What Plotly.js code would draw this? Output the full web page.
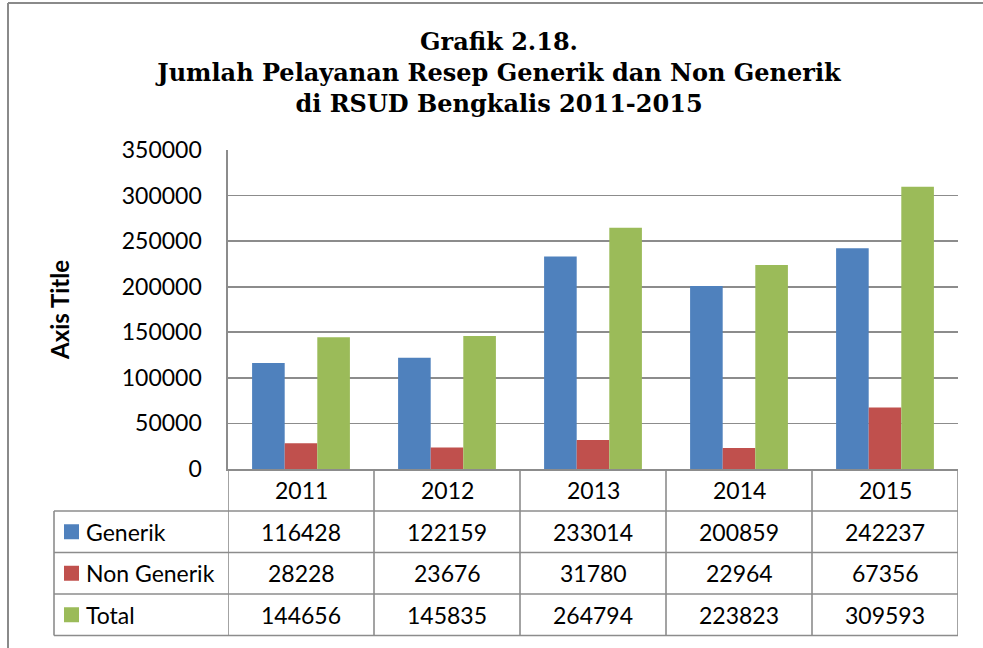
<!DOCTYPE html>
<html>
<head>
<meta charset="utf-8">
<script src="https://cdn.plot.ly/plotly-3.0.1.min.js"></script>
<style>
  html, body { margin: 0; padding: 0; background: #fff; }
  #chart { width: 983px; height: 648px; }
</style>
</head>
<body>
<div id="chart"></div>
<script>
// ---- data ----
const years = ["2011", "2012", "2013", "2014", "2015"];
const seriesNames = ["Generik", "Non Generik", "Total"];
const generik = [116428, 122159, 233014, 200859, 242237];
const nonGenerik = [28228, 23676, 31780, 22964, 67356];
const total = [144656, 145835, 264794, 223823, 309593];
const yTickValues = [0, 50000, 100000, 150000, 200000, 250000, 300000, 350000];

// ---- style / layout ----
const colors = ["#4F81BD", "#C0504D", "#9BBB59"];
const W = 983, H = 648;
const M = { l: 228, r: 25, t: 150, b: 179 };
const PW = W - M.l - M.r, PH = H - M.t - M.b;
const plotBottom = H - M.b;
const px = x => (x - M.l) / PW;          // pixel x -> paper x
const py = y => (plotBottom - y) / PH;   // pixel y -> paper y
const gridColor = "#8c8c8c";
const txtFont = { family: "Lato, 'Open Sans', sans-serif", size: 23, color: "#000" };

const seriesValues = [generik, nonGenerik, total];
const traces = seriesValues.map((vals, i) => ({
  type: "bar",
  name: seriesNames[i],
  x: years,
  y: vals,
  marker: { color: colors[i] },
  hoverinfo: "x+y+name"
}));

// table geometry (pixels)
const tableLeft = 54, tableRight = M.l + PW;
const rowLines = [plotBottom, 511, 552.5, 594, 635.5];
const shapes = [];
const annotations = [];
const line = { color: gridColor, width: 1.6 };

// horizontal lines of data table
for (let k = 1; k < rowLines.length; k++) {
  shapes.push({ type: "line", xref: "paper", yref: "paper",
    x0: px(tableLeft), x1: px(tableRight), y0: py(rowLines[k]), y1: py(rowLines[k]), line });
}
// left edge of legend column
shapes.push({ type: "line", xref: "paper", yref: "paper",
  x0: px(tableLeft), x1: px(tableLeft), y0: py(rowLines[1]), y1: py(rowLines[4]), line });
// category boundaries
for (let c = 0; c <= years.length; c++) {
  shapes.push({ type: "line", xref: "x", yref: "paper",
    x0: c - 0.5, x1: c - 0.5, y0: py(rowLines[0]), y1: py(rowLines[4]), line });
}
// outer chart border (left + top)
shapes.push({ type: "line", xref: "paper", yref: "paper",
  x0: px(8), x1: px(8), y0: py(3), y1: py(H + 5), line: { color: "#8a8a8a", width: 2 } });
shapes.push({ type: "line", xref: "paper", yref: "paper",
  x0: px(8), x1: px(W + 5), y0: py(3), y1: py(3), line: { color: "#8a8a8a", width: 2 } });

// category header row
years.forEach((yr, i) => {
  annotations.push({ xref: "x", yref: "paper", x: i, y: py((rowLines[0] + rowLines[1]) / 2),
    text: yr, showarrow: false, font: txtFont, xanchor: "center", yanchor: "middle" });
});
// data rows with legend keys
seriesValues.forEach((vals, s) => {
  const yc = (rowLines[s + 1] + rowLines[s + 2]) / 2;
  shapes.push({ type: "rect", xref: "paper", yref: "paper",
    x0: px(64), x1: px(79), y0: py(yc - 7.5), y1: py(yc + 7.5),
    fillcolor: colors[s], line: { width: 0 } });
  annotations.push({ xref: "paper", yref: "paper", x: px(84), y: py(yc),
    text: seriesNames[s], showarrow: false, font: txtFont, xanchor: "left", yanchor: "middle" });
  vals.forEach((v, i) => {
    annotations.push({ xref: "x", yref: "paper", x: i, y: py(yc),
      text: String(v), showarrow: false, font: txtFont, xanchor: "center", yanchor: "middle" });
  });
});

const layout = {
  width: W, height: H,
  margin: M,
  paper_bgcolor: "#fff", plot_bgcolor: "#fff",
  showlegend: false,
  barmode: "group",
  bargap: 0.33,
  bargroupgap: 0,
  title: {
    text: "Grafik 2.18.<br>Jumlah Pelayanan Resep Generik dan Non Generik<br>di RSUD Bengkalis 2011-2015",
    font: { family: "'DejaVu Serif', serif", size: 24, color: "#000", weight: "bold" },
    xref: "container", yref: "container",
    x: 499 / W, y: 1 - 50 / H, xanchor: "center", yanchor: "top"
  },
  xaxis: {
    type: "category",
    showticklabels: false,
    ticks: "",
    showgrid: false,
    zeroline: false,
    showline: true, linecolor: gridColor, linewidth: 1.6,
    range: [-0.5, 4.5]
  },
  yaxis: {
    range: [0, 350000],
    tickvals: yTickValues,
    ticktext: yTickValues.map(String),
    tickfont: txtFont,
    ticks: "",
    ticklabelstandoff: 20,
    showgrid: true, gridcolor: gridColor, gridwidth: 1.6,
    zeroline: false,
    showline: true, linecolor: gridColor, linewidth: 1.6,
    title: { text: "Axis Title", font: { family: "Lato, 'Open Sans', sans-serif", size: 24, color: "#000", weight: "bold" }, standoff: 45 }
  },
  shapes, annotations
};

Plotly.newPlot("chart", traces, layout, { displayModeBar: false, staticPlot: true });
</script>
</body>
</html>
